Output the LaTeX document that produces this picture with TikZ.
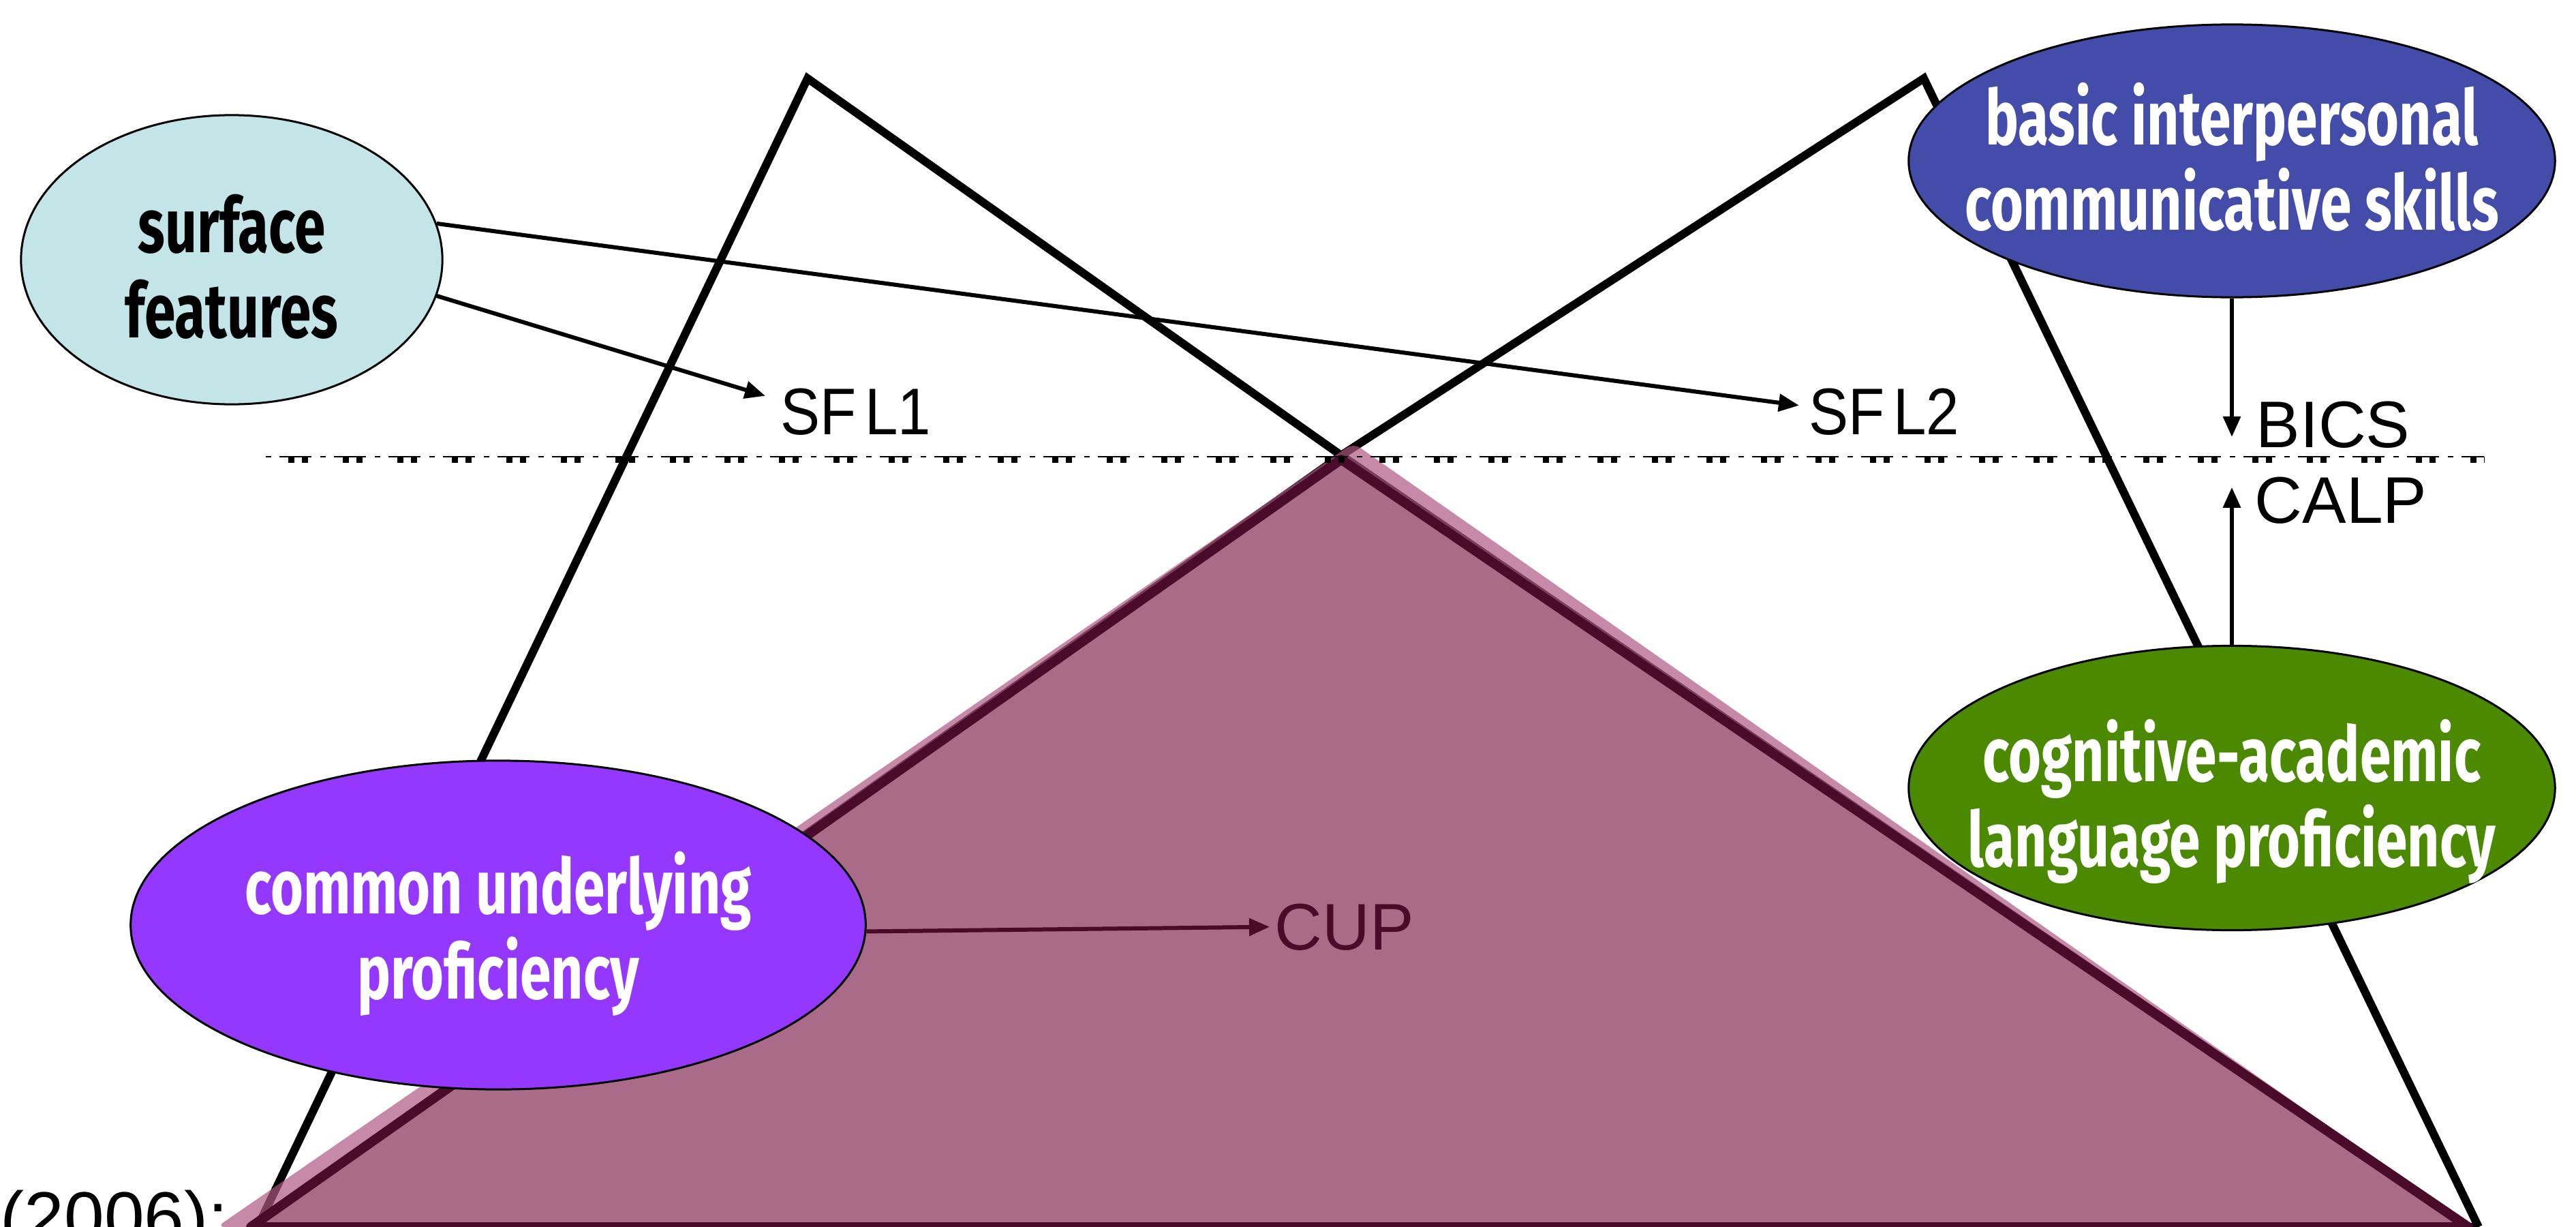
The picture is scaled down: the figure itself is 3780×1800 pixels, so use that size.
\documentclass[tikz,border=0pt]{standalone}
\usepackage{fontspec}
\usetikzlibrary{arrows.meta,calc,shapes.geometric}
\newfontfamily\ellfont[FakeStretch=0.73]{Fira Sans}
\newfontfamily\lblfont{Liberation Sans}
\newfontfamily\lblnarrow[FakeStretch=0.9]{Liberation Sans}
\definecolor{sfcol}{RGB}{195,229,232}
\definecolor{bicscol}{RGB}{67,76,169}
\definecolor{calpcol}{RGB}{75,138,0}
\definecolor{cupcol}{RGB}{148,56,255}
\definecolor{mauve}{RGB}{169,107,136}
\definecolor{darkmauve}{RGB}{74,11,42}
\definecolor{pinkedge}{RGB}{174,89,131}
\tikzset{
  ell/.style={ellipse, draw=black, line width=0.03cm, inner sep=0pt},
  elltext/.style={font=\ellfont\bfseries\fontsize{32}{35.5}\selectfont, align=center, inner sep=0pt},
  lbl/.style={font=\lblfont\fontsize{27.5}{33}\selectfont, inner sep=0pt, anchor=base west},
  sflbl/.style={font=\lblnarrow\fontsize{27.5}{33}\selectfont, inner sep=0pt, anchor=base west},
  arr/.style={line width=0.06cm, -{Triangle[length=0.3cm,width=0.25cm]}},
  blk/.style={line width=0.12cm, black, line join=miter},
}
\begin{document}
\begin{tikzpicture}[x=0.01cm,y=-0.01cm]
\useasboundingbox (0,0) rectangle (3780,1800);
% corner points of the two icebergs
\coordinate (A) at (1185,115);
\coordinate (B) at (2823,115);
\coordinate (C) at (1968,668);
\coordinate (LL) at (378,1800);
\coordinate (RR) at (3637,1800);
\coordinate (BL) at (368,1800);
\coordinate (BR) at (3622,1800);
\coordinate (M) at (1968,674);
\draw[blk] (LL) -- (A) -- (C) -- (BR);
\draw[blk] (BL) -- (C) -- (B) -- (RR);
\draw[blk] (LL) -- (RR);
% common underlying part
\fill[pinkedge, fill opacity=0.7, rounded corners=0.12cm] (318,1800) -- (1986,650) -- (3628,1800) -- cycle;
\filldraw[fill=mauve, draw=darkmauve, line width=0.14cm, line join=round] (BL) -- (M) -- (BR) -- cycle;
% waterline
\coordinate (W1) at (390,670);
\coordinate (W2) at (3645,670);
\draw[line width=0.025cm, dash pattern=on 0.08cm off 0.12cm on 0.47cm off 0.13cm] (W1) -- (W2);
\draw[line width=0.09cm, dash pattern=on 0.09cm off 0.11cm on 0.09cm off 0.51cm, dash phase=0.47cm] ($(W1)+(0,4.5)$) -- ($(W2)+(0,4.5)$);
% ellipses
\node[ell, fill=sfcol, minimum width=6.18cm, minimum height=4.24cm] (sf) at (340,381) {};
\node[ell, fill=bicscol, minimum width=9.48cm, minimum height=4.0cm] (bics) at (3275,236) {};
\node[ell, fill=calpcol, minimum width=9.48cm, minimum height=4.17cm] (calp) at (3275,1156) {};
\node[ell, fill=cupcol, minimum width=10.78cm, minimum height=4.82cm] (cup) at (731,1357) {};
\node[elltext, text=black] (sft) at (340,391) {surface\\features};
\node[elltext, text=white] (bicst) at (3275,230) {basic interpersonal\\communicative skills};
\node[elltext, text=white] (calpt) at (3275,1176) {cognitive-academic\\language proficiency};
\node[elltext, text=white] (cupt) at (731,1370) {common underlying\\proficiency};
% labels
\node[sflbl] (sfl1) at (1145,637) {SF\hspace{-0.12em} L1};
\node[sflbl] (sfl2) at (2654,637) {SF\hspace{-0.12em} L2};
\node[lbl] (bicsl) at (3310,656) {BICS};
\node[lbl] (calpl) at (3308,767) {CALP};
\node[lbl, text=darkmauve] (cupl) at (1870,1393) {CUP};
\node[lbl, font=\lblfont\fontsize{30}{36}\selectfont] (yr) at (0,1822) {(2006):};
% connectors
\draw[arr] (sf.-10) -- ($(sfl1.north west)+(-22,12)$);
\draw[arr] (sf.10) -- ($(sfl2.north west)+(-14,26)$);
\draw[arr] (bics.south) -- ($(bics.south |- bicsl.base)+(0,-15)$);
\draw[arr] (calp.north) -- ($(calp.north |- calpl.north)+(0,16)$);
\draw[arr, darkmauve] (cup.-1) -- ($(cupl.west)+(-7,0)$);
\end{tikzpicture}
\end{document}
